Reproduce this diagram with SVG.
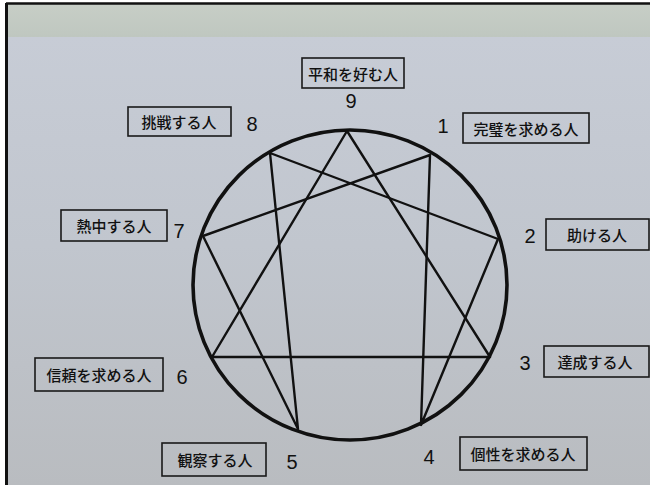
<svg xmlns="http://www.w3.org/2000/svg" width="650" height="485" viewBox="0 0 650 485">
<defs>
<linearGradient id="paper" x1="0" y1="0" x2="0" y2="1">
<stop offset="0" stop-color="#c8cdd7"/>
<stop offset="0.5" stop-color="#c1c6ce"/>
<stop offset="1" stop-color="#b9bcc0"/>
</linearGradient>
<linearGradient id="wall" x1="0" y1="0" x2="0" y2="1">
<stop offset="0" stop-color="#c7cec6"/>
<stop offset="1" stop-color="#bfc7c0"/>
</linearGradient>
<style>
.box{fill:none;stroke:#1a1a1a;stroke-width:1.6}
.lbl{font-family:"Noto Sans CJK JP","Noto Sans",sans-serif;font-size:15px;font-weight:500;fill:#111;text-anchor:middle;dominant-baseline:central}
.num{font-family:"Liberation Sans",Arial,sans-serif;font-size:20px;fill:#111;text-anchor:middle;dominant-baseline:central}
.ln{stroke:#111;stroke-width:2.4;fill:none;stroke-linejoin:round}
</style>
</defs>
<rect x="0" y="0" width="650" height="485" fill="#ffffff"/>
<rect x="6" y="4" width="644" height="481" fill="url(#paper)"/>
<rect x="6" y="4" width="644" height="33" fill="url(#wall)"/>
<line x1="6" y1="3.5" x2="650" y2="3.5" stroke="#111" stroke-width="2.5"/>
<line x1="6.5" y1="3" x2="6.5" y2="485" stroke="#111" stroke-width="3"/>

<g id="connectors">
<ellipse cx="350" cy="285" rx="157" ry="155" fill="none" stroke="#111" stroke-width="3.6"/>
<polygon class="ln" points="347,131 490,357 212,357"/>
<polygon class="ln" points="430,155 421,425 498,239 270,153 298,429 203,236"/>
</g>

<g id="n9"><rect class="box" x="302" y="58" width="102" height="30"/><text class="lbl" x="353" y="73">平和を好む人</text><text class="num" x="351" y="101">9</text></g>
<g id="n8"><rect class="box" x="128" y="107" width="103" height="29"/><text class="lbl" x="179" y="121">挑戦する人</text><text class="num" x="252" y="124">8</text></g>
<g id="n1"><rect class="box" x="463" y="113" width="126" height="30"/><text class="lbl" x="526" y="128">完璧を求める人</text><text class="num" x="443" y="126">1</text></g>
<g id="n7"><rect class="box" x="61" y="210" width="106" height="31"/><text class="lbl" x="114" y="225">熱中する人</text><text class="num" x="179" y="231">7</text></g>
<g id="n2"><rect class="box" x="546" y="219" width="103" height="31"/><text class="lbl" x="597" y="234">助ける人</text><text class="num" x="530" y="236">2</text></g>
<g id="n6"><rect class="box" x="35" y="358" width="128" height="33"/><text class="lbl" x="99" y="374">信頼を求める人</text><text class="num" x="182" y="377">6</text></g>
<g id="n3"><rect class="box" x="544" y="346" width="105" height="31"/><text class="lbl" x="595" y="361">達成する人</text><text class="num" x="525" y="363">3</text></g>
<g id="n5"><rect class="box" x="162" y="443" width="104" height="33"/><text class="lbl" x="215" y="459">観察する人</text><text class="num" x="292" y="462">5</text></g>
<g id="n4"><rect class="box" x="460" y="437" width="127" height="33"/><text class="lbl" x="523" y="453">個性を求める人</text><text class="num" x="429" y="457">4</text></g>
</svg>
